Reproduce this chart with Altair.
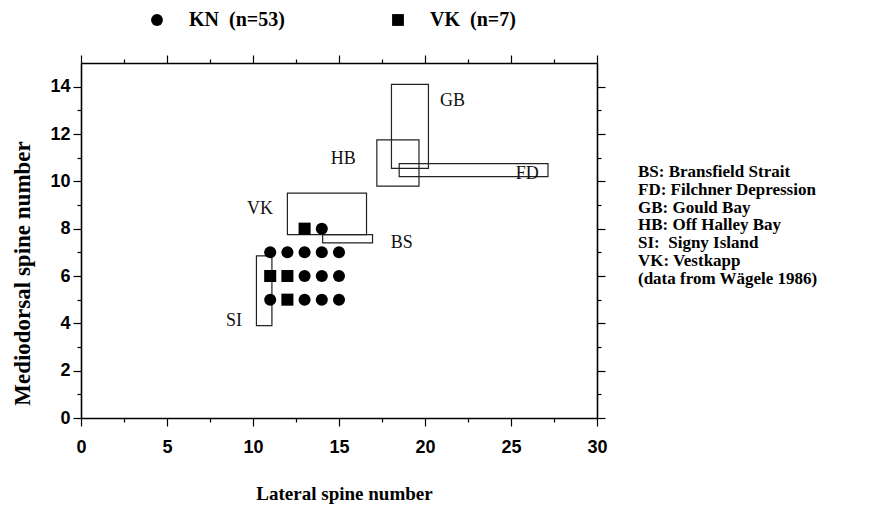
import altair as alt
import pandas as pd

# Spine-count ranges per locality (Wägele 1986): lateral (x) and mediodorsal (y)
region_codes = ["GB", "HB", "FD", "VK", "BS", "SI"]
lat_min = [18.05, 17.2, 18.5, 12.0, 14.05, 10.2]
lat_max = [20.2, 19.65, 27.15, 16.6, 16.95, 11.1]
med_min = [10.55, 9.8, 10.2, 7.75, 7.4, 3.9]
med_max = [14.1, 11.75, 10.75, 9.5, 7.75, 6.85]

# where each locality code is written
label_x = [21.6, 15.25, 25.95, 10.4, 18.65, 8.9]
label_y = [13.4, 10.95, 10.3, 8.85, 7.4, 4.1]

# observed spine-count combinations
kn_x = [11, 12, 13, 14, 15, 13, 14, 15, 11, 13, 14, 15, 14]
kn_y = [7, 7, 7, 7, 7, 6, 6, 6, 5, 5, 5, 5, 8]
vk_x = [11, 12, 12, 13]
vk_y = [6, 6, 5, 8]

series_names = ["KN\u00a0 (n=53)", "VK\u00a0 (n=7)"]

key_lines = [
    "BS: Bransfield Strait",
    "FD: Filchner Depression",
    "GB: Gould Bay",
    "HB: Off Halley Bay",
    "SI:\u00a0 Signy Island",
    "VK: Vestkapp",
    "(data from Wägele 1986)",
]

x_ticks = [i * 2.5 for i in range(13)]
y_ticks = list(range(0, 15))

SERIF = "Liberation Serif"
SANS = "Liberation Sans"

boxes = pd.DataFrame({"code": region_codes, "x0": lat_min, "x1": lat_max,
                      "y0": med_min, "y1": med_max})
labels = pd.DataFrame({"code": region_codes, "x": label_x, "y": label_y})
points = pd.DataFrame({
    "lat": kn_x + vk_x,
    "med": kn_y + vk_y,
    "grp": [series_names[0]] * len(kn_x) + [series_names[1]] * len(vk_x),
})
key = pd.DataFrame({"t": ["\n".join(key_lines)]})

xs = alt.Scale(domain=[0, 30], nice=False, zero=False)
ys = alt.Scale(domain=[0, 15], nice=False, zero=False)

x_major = "datum.value % 5 == 0"
y_major = "datum.value % 2 == 0"


def x_axis(orient, **kw):
    return alt.Axis(
        orient=orient, values=x_ticks, grid=False,
        tickSize={"condition": {"test": x_major, "value": 8}, "value": 4},
        tickColor="black", tickWidth=1.2, domainColor="black", domainWidth=1.6,
        labelOverlap=False, labelFlush=False, **kw)


def y_axis(orient, **kw):
    return alt.Axis(
        orient=orient, values=y_ticks, grid=False,
        tickSize={"condition": {"test": y_major, "value": 8}, "value": 4},
        tickColor="black", tickWidth=1.2, domainColor="black", domainWidth=1.6,
        labelOverlap=False, labelFlush=False, **kw)


rects = alt.Chart(boxes).mark_rect(
    fill=None, stroke="#222", strokeWidth=1.2
).encode(
    x=alt.X("x0:Q", scale=xs, axis=x_axis(
        "bottom", title="Lateral spine number",
        labelExpr=f"{x_major} ? datum.label : ''",
        labelFont=SANS, labelFontWeight="bold", labelFontSize=18,
        labelColor="black", labelPadding=12,
        titleFont=SERIF, titleFontWeight="bold", titleFontSize=19,
        titleColor="black", titleX=263, titleY=75, titleBaseline="middle",
        titleAlign="center")),
    x2="x1:Q",
    y=alt.Y("y0:Q", scale=ys, axis=y_axis(
        "left", title="Mediodorsal spine number",
        labelExpr=f"{y_major} ? datum.label : ''",
        labelFont=SANS, labelFontWeight="bold", labelFontSize=18,
        labelColor="black", labelPadding=3,
        titleFont=SERIF, titleFontWeight="bold", titleFontSize=23,
        titleColor="black", titleX=-59, titleY=210, titleAngle=270,
        titleBaseline="middle", titleAlign="center")),
    y2="y1:Q",
)

dots = alt.Chart(points).mark_point(filled=True, opacity=1, color="black", size=145).encode(
    x=alt.X("lat:Q", scale=xs, axis=x_axis("top", labels=False, title=None)),
    y=alt.Y("med:Q", scale=ys, axis=y_axis("right", labels=False, title=None)),
    shape=alt.Shape("grp:N", scale=alt.Scale(domain=series_names, range=["circle", "square"]),
                    legend=alt.Legend(
                        title=None, orient="none", direction="horizontal",
                        legendX=66, legendY=-53, symbolSize=140,
                        symbolFillColor="black", symbolStrokeColor="black",
                        symbolStrokeWidth=0, labelFont=SERIF, labelFontWeight="bold",
                        labelFontSize=20, labelColor="black", labelOffset=22,
                        columnPadding=103)),
)

codes = alt.Chart(labels).mark_text(
    font=SERIF, fontSize=18, color="#111", align="center", baseline="middle"
).encode(
    x=alt.X("x:Q", scale=xs, axis=None),
    y=alt.Y("y:Q", scale=ys, axis=None),
    text="code:N",
)

key_text = alt.Chart(key).mark_text(
    font=SERIF, fontSize=17, fontWeight="bold", color="black",
    align="left", baseline="alphabetic", lineBreak="\n", lineHeight=17.8
).encode(
    x=alt.value(557), y=alt.value(114), text="t:N",
)

chart = alt.layer(rects, dots, codes, key_text).resolve_axis(
    x="independent", y="independent"
).properties(
    width=516, height=355,
    autosize=alt.AutoSizeParams(type="none"),
    padding={"left": 81, "top": 63, "right": 272, "bottom": 92},
    background="white",
).configure_view(stroke=None)

chart.save("out.html", embed_options={"renderer": "svg", "actions": False})
